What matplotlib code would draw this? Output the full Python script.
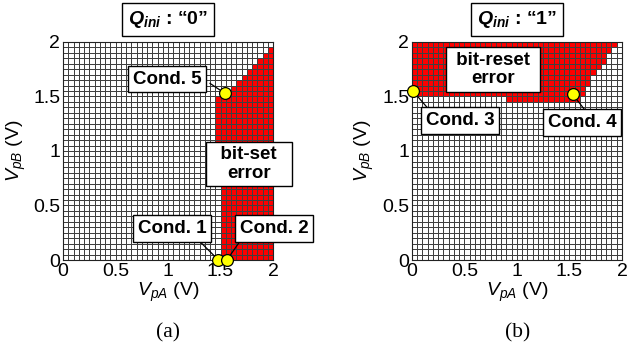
import matplotlib
matplotlib.use("Agg")

import matplotlib.pyplot as plt
import numpy as np
from matplotlib.colors import ListedColormap

plt.rcParams["font.family"] = ["Liberation Sans", "DejaVu Sans"]
plt.rcParams["mathtext.fontset"] = "custom"
plt.rcParams["mathtext.rm"] = "Liberation Sans"
plt.rcParams["mathtext.it"] = "Liberation Sans:italic"
plt.rcParams["mathtext.bf"] = "Liberation Sans:bold"
plt.rcParams["mathtext.bfit"] = "Liberation Sans:bold:italic"

# ── Data ───────────────────────────────────────────────────────────────────
N_CELLS = 40          # 0.05 V steps from 0 to 2 V
V_MAX = 2.0

# Panel (a), Qini = "0": first red column in each row (row 0 = bottom); 40 = none
A_START = [30, 30, 30, 30, 30, 30, 30, 30, 30, 30,
           30, 30, 30, 30, 30, 30, 30, 30, 29, 29,
           29, 29, 29, 29, 29, 29, 29, 29, 29, 29,
           31, 32, 33, 34, 35, 36, 37, 38, 39, 40]

# Panel (b), Qini = "1": red columns [start, end) in each row; start 40 = none
B_START = [40] * 29 + [18] + [0] * 10
B_END = [0] * 29 + [32, 33, 33, 34, 34, 35, 36, 37, 37, 38, 39]

# condition points (VpA, VpB)
COND_A = {"Cond. 1": (1.48, 0.0), "Cond. 2": (1.56, 0.0), "Cond. 5": (1.54, 1.53)}
COND_B = {"Cond. 3": (0.01, 1.55), "Cond. 4": (1.53, 1.52)}

TICKS = [0, 0.5, 1, 1.5, 2]
TICK_LABELS = ["0", "0.5", "1", "1.5", "2"]

RED = "#ff0000"
YELLOW = "#ffff00"
EDGE = "#404040"


def build_mask(starts, ends=None):
    mask = np.zeros((N_CELLS, N_CELLS))
    for r in range(N_CELLS):
        stop = N_CELLS if ends is None else ends[r]
        for c in range(starts[r], stop):
            mask[r, c] = 1
    return mask


def draw_map(ax, mask):
    edges = np.linspace(0, V_MAX, N_CELLS + 1)
    ax.pcolormesh(edges, edges, mask, cmap=ListedColormap(["white", RED]),
                  vmin=0, vmax=1, edgecolors=EDGE, linewidth=0.55)
    ax.set_xlim(0, V_MAX)
    ax.set_ylim(0, V_MAX)
    ax.set_xticks(TICKS)
    ax.set_xticklabels(TICK_LABELS)
    ax.set_yticks(TICKS)
    ax.set_yticklabels(TICK_LABELS)
    ax.tick_params(length=0, labelsize=14, pad=2)
    for s in ax.spines.values():
        s.set_color("#222222")
        s.set_linewidth(0.8)
    ax.set_xlabel(r"$V_{pA}$ (V)", fontsize=14, labelpad=1)
    ax.set_ylabel(r"$V_{pB}$ (V)", fontsize=14, labelpad=4)


def box_text(ax, x, y, s, size=13.5, pad=0.25):
    ax.text(x, y, s, ha="center", va="center", fontsize=size,
            fontweight="bold", linespacing=1.1, zorder=6,
            bbox=dict(boxstyle=f"square,pad={pad}", fc="white", ec="black", lw=1.0))


def dot(ax, x, y):
    ax.plot(x, y, "o", ms=8.5, mfc=YELLOW, mec="black", mew=0.9,
            zorder=7, clip_on=False)


def leader(ax, x0, y0, x1, y1):
    ax.plot([x0, x1], [y0, y1], color="black", lw=0.9, zorder=5, clip_on=False)


fig = plt.figure(figsize=(6.27, 3.57), dpi=100)
ax_a = fig.add_axes([0.1005, 0.2717, 0.335, 0.6107])
ax_b = fig.add_axes([0.657, 0.2717, 0.335, 0.6107])

# ── Panel (a) ──────────────────────────────────────────────────────────────
draw_map(ax_a, build_mask(A_START))
leader(ax_a, 1.25, 0.22, *COND_A["Cond. 1"])
leader(ax_a, 1.72, 0.22, *COND_A["Cond. 2"])
leader(ax_a, 1.40, 1.62, *COND_A["Cond. 5"])
box_text(ax_a, 1.04, 0.29, "Cond. 1")
box_text(ax_a, 2.01, 0.29, "Cond. 2")
box_text(ax_a, 0.99, 1.66, "Cond. 5")
box_text(ax_a, 1.77, 0.88, "  bit-set  \nerror")
for name in ["Cond. 1", "Cond. 2", "Cond. 5"]:
    dot(ax_a, *COND_A[name])

# ── Panel (b) ──────────────────────────────────────────────────────────────
draw_map(ax_b, build_mask(B_START, B_END))
leader(ax_b, *COND_B["Cond. 3"], 0.18, 1.36)
leader(ax_b, *COND_B["Cond. 4"], 1.66, 1.36)
box_text(ax_b, 0.46, 1.28, "Cond. 3")
box_text(ax_b, 1.62, 1.26, "Cond. 4")
box_text(ax_b, 0.77, 1.75, " bit-reset \nerror")
for name in ["Cond. 3", "Cond. 4"]:
    dot(ax_b, *COND_B[name])

# ── Titles and panel labels ────────────────────────────────────────────────
for x, q in [(0.268, "0"), (0.825, "1")]:
    fig.text(x, 0.945, r"$\mathbfit{Q}_{\mathbfit{ini}}$" + " : \u201c" + q + "\u201d",
             ha="center", va="center", fontsize=14, fontweight="bold",
             bbox=dict(boxstyle="square,pad=0.3", fc="white", ec="black", lw=1.0))

fig.text(0.268, 0.068, "(a)", ha="center", va="center", fontsize=15.5,
         family=["Liberation Serif", "DejaVu Serif"])
fig.text(0.825, 0.068, "(b)", ha="center", va="center", fontsize=15.5,
         family=["Liberation Serif", "DejaVu Serif"])

fig.savefig("out.png", dpi=100, facecolor="white")
